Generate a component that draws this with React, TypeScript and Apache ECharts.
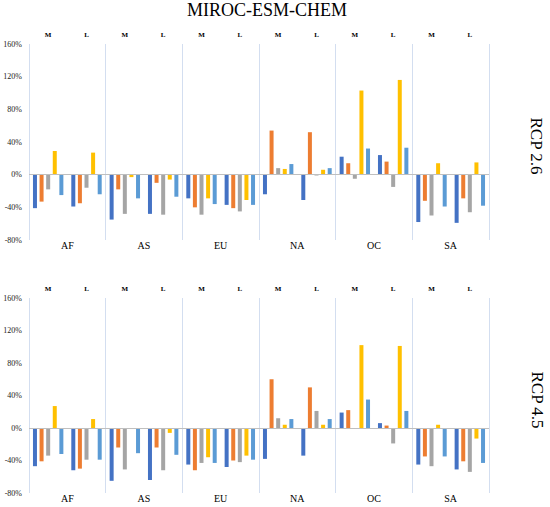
import { useEffect, useRef } from 'react';
import * as echarts from 'echarts';

// 区域与时段
const regions = ['AF', 'AS', 'EU', 'NA', 'OC', 'SA'];
const periods = ['M', 'L', 'M', 'L', 'M', 'L', 'M', 'L', 'M', 'L', 'M', 'L'];

// y 轴刻度
const yMin = -80;
const yMax = 160;
const yStep = 40;

// RCP 2.6（顺序: AF M, AF L, AS M, AS L ... SA L）
const rcp26Blue = [-41, -39, -55, -48, -29, -37, -24, -31, 22, 24, -58, -59];
const rcp26Orange = [-33, -35, -18, -10, -40, -41, 54, 52, 14, 16, -32, -29];
const rcp26Gray = [-18, -16, -48, -49, -49, -45, 8, -1, -5, -15, -50, -46];
const rcp26Yellow = [29, 27, -3, -6, -29, -31, 7, 6, 103, 116, 14, 15];
const rcp26LightBlue = [-25, -24, -29, -27, -36, -37, 13, 8, 32, 33, -39, -38];

// RCP 4.5
const rcp45Blue = [-47, -52, -65, -64, -45, -48, -38, -34, 19, 6, -45, -51];
const rcp45Orange = [-41, -50, -24, -24, -52, -40, 60, 50, 22, 3, -35, -41];
const rcp45Gray = [-34, -39, -51, -52, -43, -42, 12, 21, 0, -19, -47, -54];
const rcp45Yellow = [27, 11, 0, -6, -36, -34, 4, 4, 102, 101, 4, -13];
const rcp45LightBlue = [-32, -39, -31, -33, -43, -39, 11, 11, 35, 21, -35, -43];

const colors = ['#4472C4', '#ED7D31', '#A5A5A5', '#FFC000', '#5B9BD5'];
const font = '"Liberation Serif", "Times New Roman", serif';

function App() {
  const chartRef = useRef<HTMLDivElement>(null);

  useEffect(() => {
    document.body.style.margin = '0';
    if (!chartRef.current) return;
    const chart = echarts.init(chartRef.current, null, { renderer: 'svg' });

    const panels = [
      [rcp26Blue, rcp26Orange, rcp26Gray, rcp26Yellow, rcp26LightBlue],
      [rcp45Blue, rcp45Orange, rcp45Gray, rcp45Yellow, rcp45LightBlue],
    ];

    const grids = [
      { left: 29, right: 61, top: 44, height: 196 },
      { left: 29, right: 61, top: 298, height: 195 },
    ];

    const xAxis: any[] = [];
    const yAxis: any[] = [];
    const series: any[] = [];

    grids.forEach((_, g) => {
      // 上方 M / L
      xAxis.push({
        type: 'category',
        gridIndex: g,
        position: 'top',
        data: periods,
        axisLine: { show: false },
        axisTick: { show: false },
        axisLabel: { fontFamily: font, fontSize: 7, fontWeight: 'bold', color: '#000', margin: 6 },
      });
      // 下方区域名 + 分隔线
      xAxis.push({
        type: 'category',
        gridIndex: g,
        position: 'bottom',
        data: regions,
        axisLine: { show: false },
        axisTick: { show: false },
        axisLabel: { fontFamily: font, fontSize: 10, color: '#000', margin: 0 },
        splitLine: { show: true, lineStyle: { color: '#d3def0', width: 1 } },
      });
      yAxis.push({
        type: 'value',
        gridIndex: g,
        min: yMin,
        max: yMax,
        interval: yStep,
        axisLine: { show: false },
        axisTick: { show: false },
        splitLine: { show: false },
        axisLabel: { fontFamily: font, fontSize: 8, color: '#222', margin: 7, formatter: '{value}%' },
      });

      panels[g].forEach((values, i) => {
        series.push({
          type: 'bar',
          name: 'S' + (i + 1),
          xAxisIndex: g * 2,
          yAxisIndex: g,
          data: values,
          barWidth: 4,
          barGap: '65%',
          itemStyle: { color: colors[i] },
          markLine: i === 0
            ? {
                silent: true,
                symbol: 'none',
                label: { show: false },
                lineStyle: { color: '#bfbfbf', width: 1, type: 'solid' },
                data: [{ yAxis: 0 }],
              }
            : undefined,
        });
      });
    });

    chart.setOption({
      animation: false,
      backgroundColor: '#fff',
      grid: grids,
      xAxis,
      yAxis,
      series,
      graphic: [
        {
          type: 'text',
          x: 267,
          y: 10,
          style: { text: 'MIROC-ESM-CHEM', font: `18px ${font}`, fill: '#000', textAlign: 'center', textVerticalAlign: 'middle' },
        },
        {
          type: 'text',
          x: 536,
          y: 146,
          rotation: -Math.PI / 2,
          style: { text: 'RCP 2.6', font: `17px ${font}`, fill: '#000', textAlign: 'center', textVerticalAlign: 'middle' },
        },
        {
          type: 'text',
          x: 537,
          y: 400,
          rotation: -Math.PI / 2,
          style: { text: 'RCP 4.5', font: `17px ${font}`, fill: '#000', textAlign: 'center', textVerticalAlign: 'middle' },
        },
      ],
    });

    return () => {
      chart.dispose();
    };
  }, []);

  return <div ref={chartRef} style={{ width: '550px', height: '507px' }} />;
}

export default App;
